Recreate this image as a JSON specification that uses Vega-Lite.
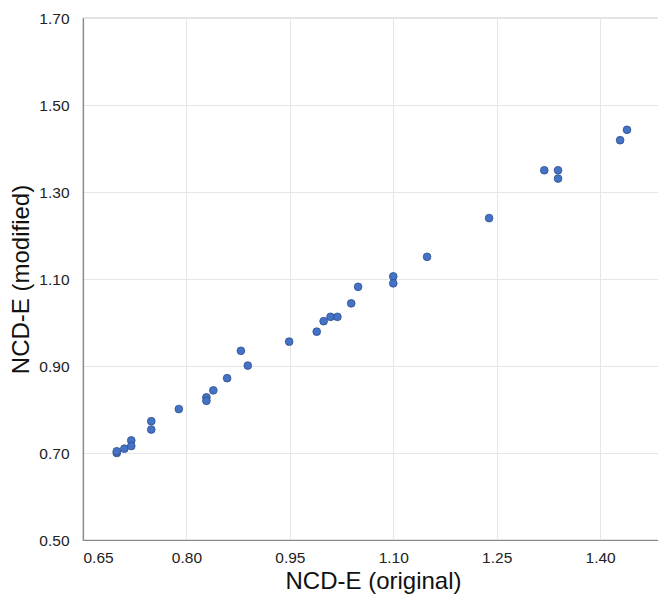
{
  "$schema": "https://vega.github.io/schema/vega-lite/v6.json",
  "autosize": "none",
  "padding": {"left": 83, "top": 18, "right": 0, "bottom": 56},
  "width": 580,
  "height": 522,
  "config": {
    "font": "Liberation Sans",
    "view": {"stroke": "#8a8a8a", "strokeWidth": 1.2},
    "axis": {
      "domainColor": "#8a8a8a",
      "domainWidth": 1.2,
      "gridColor": "#e6e6e6",
      "gridWidth": 1,
      "ticks": false,
      "labelFontSize": 15.5,
      "labelColor": "#222",
      "titleFontSize": 24,
      "titleFontWeight": "normal",
      "titleColor": "#111"
    }
  },
  "data": {
    "values": [
      {"original": 0.699, "modified": 0.700},
      {"original": 0.699, "modified": 0.704},
      {"original": 0.710, "modified": 0.710},
      {"original": 0.720, "modified": 0.729},
      {"original": 0.720, "modified": 0.716},
      {"original": 0.749, "modified": 0.773},
      {"original": 0.749, "modified": 0.754},
      {"original": 0.789, "modified": 0.801},
      {"original": 0.829, "modified": 0.828},
      {"original": 0.829, "modified": 0.820},
      {"original": 0.839, "modified": 0.844},
      {"original": 0.859, "modified": 0.872},
      {"original": 0.879, "modified": 0.935},
      {"original": 0.889, "modified": 0.901},
      {"original": 0.949, "modified": 0.956},
      {"original": 0.989, "modified": 0.979},
      {"original": 0.999, "modified": 1.003},
      {"original": 1.009, "modified": 1.013},
      {"original": 1.019, "modified": 1.013},
      {"original": 1.039, "modified": 1.044},
      {"original": 1.049, "modified": 1.082},
      {"original": 1.100, "modified": 1.106},
      {"original": 1.100, "modified": 1.090},
      {"original": 1.149, "modified": 1.151},
      {"original": 1.239, "modified": 1.240},
      {"original": 1.319, "modified": 1.350},
      {"original": 1.339, "modified": 1.350},
      {"original": 1.339, "modified": 1.331},
      {"original": 1.429, "modified": 1.419},
      {"original": 1.439, "modified": 1.443}
    ]
  },
  "mark": {"type": "point", "filled": true, "fill": "#4472C4", "stroke": "#2F4F8F", "strokeWidth": 0.8, "size": 60, "opacity": 1},
  "encoding": {
    "x": {
      "field": "original",
      "type": "quantitative",
      "title": "NCD-E (original)",
      "scale": {"domain": [0.65, 1.4912], "nice": false, "zero": false},
      "axis": {"values": [0.65, 0.8, 0.95, 1.1, 1.25, 1.4], "format": ".2f", "labelPadding": 10, "titlePadding": 4}
    },
    "y": {
      "field": "modified",
      "type": "quantitative",
      "title": "NCD-E (modified)",
      "scale": {"domain": [0.5, 1.7], "nice": false, "zero": false},
      "axis": {"values": [0.5, 0.7, 0.9, 1.1, 1.3, 1.5, 1.7], "format": ".2f", "labelPadding": 14, "titlePadding": 5}
    }
  }
}
